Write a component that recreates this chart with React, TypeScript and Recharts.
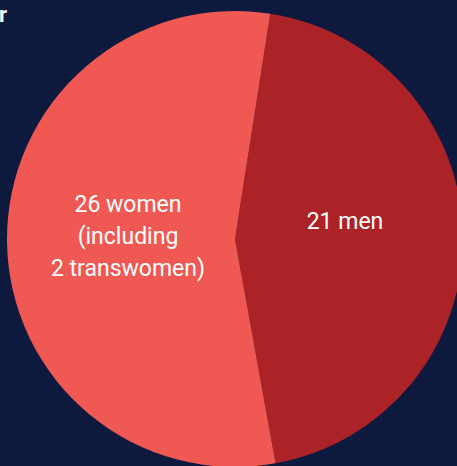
import React from "react";
import { PieChart, Pie, Cell } from "recharts";

const categories = ["men", "women"];
const values = [21, 26];
const labelLines = [["21 men"], ["26 women", "(including", "2 transwomen)"]];
const colors = ["#ac2327", "#f05853"];
const titleText = "r";

const data = categories.map((c, i) => ({ name: c, value: values[i], lines: labelLines[i] }));

// label anchor offsets relative to pie center (style, not data)
const labelPos: Record<string, { dx: number; dy: number }> = {
  men: { dx: 110, dy: -18 },
  women: { dx: -107, dy: -3 },
};

const renderLabel = (props: any) => {
  const { cx, cy, payload, name } = props;
  const key = (payload && payload.name) || name;
  const p = labelPos[key];
  const lines: string[] = (payload && payload.lines) || [];
  const lh = 32;
  const startY = cy + p.dy - ((lines.length - 1) * lh) / 2;
  return (
    <text
      x={cx + p.dx}
      y={startY}
      fill="#ffffff"
      textAnchor="middle"
      dominantBaseline="central"
      fontSize={23}
      fontFamily="Roboto, sans-serif"
    >
      {lines.map((l, i) => (
        <tspan key={i} x={cx + p.dx} dy={i === 0 ? 0 : lh}>
          {l}
        </tspan>
      ))}
    </text>
  );
};

export default function App() {
  return (
    <div
      style={{
        position: "fixed",
        left: 0,
        top: 0,
        width: 457,
        height: 466,
        background: "#0d1a3e",
        overflow: "hidden",
      }}
    >
      <PieChart width={457} height={466} margin={{ top: 0, right: 0, bottom: 0, left: 0 }}>
        <text
          x={7}
          y={22}
          textAnchor="end"
          fill="#ffffff"
          fontWeight="bold"
          fontSize={22}
          fontFamily="Roboto, sans-serif"
        >
          {titleText}
        </text>
        <Pie
          data={data}
          dataKey="value"
          nameKey="name"
          cx={235}
          cy={239}
          outerRadius={228}
          startAngle={81.1}
          endAngle={-278.9}
          stroke="none"
          label={renderLabel}
          labelLine={false}
          isAnimationActive={false}
        >
          {data.map((d, i) => (
            <Cell key={d.name} fill={colors[i]} />
          ))}
        </Pie>
      </PieChart>
    </div>
  );
}
